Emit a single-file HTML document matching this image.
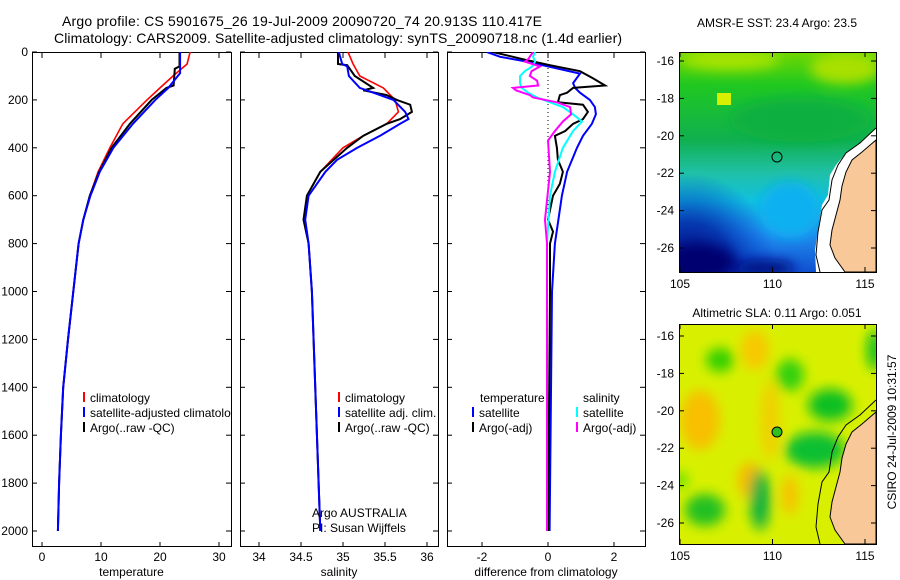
<!DOCTYPE html>
<html><head><meta charset="utf-8"><style>
body{margin:0;background:#fff;}
svg{display:block;font-family:"Liberation Sans",sans-serif;}
text{font-size:12px;fill:#000;}
</style></head><body>
<svg id="fig" width="900" height="580" viewBox="0 0 900 580">
<defs>
<clipPath id="c1"><rect x="32" y="52" width="199" height="495"/></clipPath>
<clipPath id="c2"><rect x="240" y="52" width="198" height="495"/></clipPath>
<clipPath id="c3"><rect x="447" y="52" width="198" height="495"/></clipPath>
<clipPath id="m1"><rect x="679" y="52" width="197" height="220"/></clipPath>
<clipPath id="m2"><rect x="679" y="324" width="197" height="220"/></clipPath>
<linearGradient id="sstg" x1="0" y1="0" x2="0" y2="1">
<stop offset="0" stop-color="#70d800"/><stop offset="0.15" stop-color="#20c820"/><stop offset="0.4" stop-color="#10b050"/><stop offset="0.55" stop-color="#20c0a8"/><stop offset="0.68" stop-color="#10c0e0"/><stop offset="0.82" stop-color="#2090f0"/><stop offset="1" stop-color="#1050d0"/>
</linearGradient>
<radialGradient id="navy" cx="0.05" cy="1" r="0.45"><stop offset="0" stop-color="#000070"/><stop offset="0.5" stop-color="#0020a0" stop-opacity="0.8"/><stop offset="1" stop-color="#0040d0" stop-opacity="0"/></radialGradient>
<filter id="bl"><feGaussianBlur stdDeviation="6"/></filter>
</defs>

<g>
<text x="62" y="26" textLength="480" style="font-size:14px">Argo profile: CS 5901675_26 19-Jul-2009 20090720_74 20.913S 110.417E</text>
<text x="54" y="43" textLength="568" style="font-size:14px">Climatology: CARS2009. Satellite-adjusted climatology: synTS_20090718.nc (1.4d earlier)</text>
</g>

<g id="axes"></g>
<g id="series"></g>

<g>
<text x="777" y="27" text-anchor="middle" style="font-size:12px">AMSR-E SST: 23.4  Argo: 23.5</text>
<g clip-path="url(#m1)">
<rect x="679" y="52" width="197" height="220" fill="url(#sstg)"/>
<rect x="679" y="52" width="197" height="220" fill="url(#navy)"/>
<g filter="url(#bl)">
<ellipse cx="730" cy="60" rx="50" ry="10" fill="#a8e400"/>
<ellipse cx="845" cy="68" rx="35" ry="16" fill="#a8e000"/>
<ellipse cx="800" cy="120" rx="70" ry="22" fill="#10b040"/>
<ellipse cx="700" cy="262" rx="35" ry="18" fill="#000070"/>
<ellipse cx="765" cy="268" rx="30" ry="8" fill="#001080"/>
<ellipse cx="790" cy="210" rx="30" ry="28" fill="#10b0f0"/>
</g>
<rect x="717" y="93" width="14" height="12" fill="#d8f000"/>
<polygon points="876,128 860,143 846,153 836,165 830,175 828,195 822,205 818,230 815,250 816,272 876,272" fill="#fff"/>
<polygon points="876,140 862,152 852,160 846,172 842,186 840,200 836,215 832,230 830,245 835,258 845,272 876,272" fill="#f8c898" stroke="#000" stroke-width="1"/>
<path d="M876,128 L860,143 L846,153 L838,165 L832,180 L829,200 L822,210 L818,232 L816,255 L820,272" fill="none" stroke="#000" stroke-width="1"/>
</g>
<rect x="679.5" y="52.5" width="197" height="220" fill="none" stroke="#000"/>
<circle cx="777" cy="157" r="5" fill="none" stroke="#000"/>
</g>

<g>
<text x="777" y="317" text-anchor="middle" style="font-size:12px">Altimetric SLA: 0.11  Argo: 0.051</text>
<g clip-path="url(#m2)">
<rect x="679" y="324" width="197" height="220" fill="#d8f000"/>
<g filter="url(#bl)">
<ellipse cx="755" cy="350" rx="14" ry="20" fill="#f8c800"/>
<ellipse cx="700" cy="420" rx="20" ry="30" fill="#f8c000"/>
<ellipse cx="750" cy="480" rx="12" ry="18" fill="#f8b800"/>
<ellipse cx="790" cy="495" rx="8" ry="20" fill="#f8c000"/>
<ellipse cx="770" cy="420" rx="10" ry="40" fill="#f0d000"/>
<ellipse cx="720" cy="360" rx="14" ry="12" fill="#30d000"/>
<ellipse cx="790" cy="375" rx="14" ry="16" fill="#30d010"/>
<ellipse cx="830" cy="405" rx="22" ry="16" fill="#10c020"/>
<ellipse cx="815" cy="450" rx="30" ry="18" fill="#10c030"/>
<ellipse cx="760" cy="500" rx="10" ry="30" fill="#10b040"/>
<ellipse cx="705" cy="510" rx="20" ry="16" fill="#20c020"/>
<ellipse cx="875" cy="350" rx="8" ry="20" fill="#10c020"/>
<ellipse cx="680" cy="480" rx="8" ry="8" fill="#60e000"/>
</g>
<polygon points="876,412 862,424 852,432 846,444 842,458 840,472 836,487 832,502 830,517 835,530 845,544 876,544" fill="#f8c898" stroke="#000" stroke-width="1"/>
<path d="M876,400 L860,415 L846,425 L838,437 L832,452 L829,472 L822,482 L818,504 L816,527 L820,544" fill="none" stroke="#000" stroke-width="1"/>
</g>
<rect x="679.5" y="324.5" width="197" height="220" fill="none" stroke="#000"/>
<circle cx="777" cy="432" r="5" fill="#30c020" stroke="#000"/>
<text transform="translate(896,432) rotate(-90)" text-anchor="middle" style="font-size:12px">CSIRO 24-Jul-2009 10:31:57</text>
</g>
</svg>
<script>
const depthAxisTicks = [0,200,400,600,800,1000,1200,1400,1600,1800,2000];
const tempTicks = [0,10,20,30];
const salTicks = [34,34.5,35,35.5,36];
const diffTicks = [-2,0,2];
const latTicks = [-16,-18,-20,-22,-24,-26];
const lonTicks = [105,110,115];

const tClimDepth = [0,50,100,150,200,300,400,500,600,700,800,1000,1200,1400,1600,1800,2000];
const tClim      = [25.1,24.6,22.2,20.0,17.8,13.7,11.5,9.5,8.1,7.0,6.2,5.3,4.4,3.6,3.2,2.9,2.7];
const tSatDepth = [0,88,150,200,300,400,500,600,700,800,1000,1200,1400,1600,1800,2000];
const tSat      = [23.4,23.4,21.4,19.2,15.4,12.1,9.8,8.2,7.0,6.2,5.3,4.4,3.6,3.2,2.9,2.7];
const tArgoDepth = [0,60,70,140,150,200,300,400,500,600,700,800,1000,1200,1400,1600,1800,2000];
const tArgo      = [23.3,23.3,22.5,22.3,21.1,18.6,14.9,11.8,9.7,8.1,7.0,6.2,5.3,4.4,3.6,3.2,2.9,2.7];

const sClimDepth = [0,50,100,150,200,250,300,350,400,500,600,700,800,1000,1500,2000];
const sClim      = [35.06,35.12,35.2,35.48,35.62,35.66,35.52,35.24,35.0,34.73,34.57,34.55,34.59,34.63,34.68,34.73];
const sSatDepth = [0,50,60,100,150,180,200,250,280,300,350,400,450,500,600,700,800,1000,1500,2000];
const sSat      = [34.95,34.99,35.05,35.07,35.2,35.44,35.6,35.74,35.78,35.68,35.44,35.17,34.93,34.79,34.59,34.55,34.59,34.63,34.68,34.73];
const sArgoDepth = [0,50,55,100,150,160,180,200,220,250,280,300,350,400,500,600,700,800,1000,1500,2000];
const sArgo      = [34.94,34.94,35.05,35.14,35.36,35.24,35.52,35.64,35.8,35.82,35.68,35.52,35.24,35.05,34.73,34.57,34.53,34.59,34.63,34.68,34.73];

const dTSatDepth = [0,20,40,60,90,130,150,170,200,230,260,300,350,400,500,600,800,1000,2000];
const dTSat      = [-1.85,-1.45,-0.64,0,0.97,0.76,0.82,0.97,1.27,1.42,1.45,1.33,1.06,0.88,0.58,0.42,0.21,0.12,0.05];
const dTArgoDepth = [0,30,55,80,110,140,150,170,180,210,220,250,280,300,330,350,400,450,500,550,600,700,750,800,1000,2000];
const dTArgo      = [-1.67,-0.76,0.06,0.97,1.36,1.73,0.76,0.58,0.36,0.3,1.06,1.21,1.06,0.76,0.52,0.21,0.27,0.3,0.45,0.36,0.15,0,0.15,0.06,0.06,0.0];
const dSSatDepth = [0,20,40,60,80,100,130,150,170,190,210,230,260,290,330,400,500,600,800,2000];
const dSSat      = [-0.39,-0.45,-0.39,-0.48,-0.7,-0.85,-0.85,-0.8,-0.6,-0.33,0.06,0.45,0.76,1.03,0.76,0.45,0.21,0.06,-0.03,-0.03];
const dSArgoDepth = [0,30,40,60,80,100,120,140,150,160,180,190,210,230,260,290,330,370,500,700,800,2000];
const dSArgo      = [-0.45,-0.6,-0.7,-0.24,-0.5,-0.55,-0.33,-0.3,-1.06,-0.97,-0.55,-0.45,0.27,0.67,0.7,0.45,0.21,0,0.06,-0.09,-0.03,-0.03];

const NS = 'http://www.w3.org/2000/svg';
const yD = d => 52 + d * 0.2395;
const xT = v => 42 + 5.9 * v;
const xS = v => 301 + 84 * (v - 34.5);
const xDf = v => 548 + 33 * v;
const yLat1 = v => 61 + (-16 - v) * 18.7;
const yLat2 = v => 336 + (-16 - v) * 18.7;
const xLon = v => 680 + (v - 105) * 18.5;

function mk(tag, attrs, parent) {
  const e = document.createElementNS(NS, tag);
  for (const k in attrs) e.setAttribute(k, attrs[k]);
  parent.appendChild(e);
  return e;
}
const axes = document.getElementById('axes');
const series = document.getElementById('series');
const svg = document.getElementById('fig');

const panels = [
  {x0:32, w:199, ticks:tempTicks, fx:xT, label:'temperature', name:'temperature'},
  {x0:240, w:198, ticks:salTicks, fx:xS, label:'salinity', name:'salinity'},
  {x0:447, w:198, ticks:diffTicks, fx:xDf, label:'difference from climatology', name:'difference'}
];
panels.forEach((p, i) => {
  const r = mk('rect', {x:p.x0+0.5, y:52.5, width:p.w, height:494, fill:'none', stroke:'#000'}, axes);
  
  
  p.ticks.forEach(t => {
    const x = p.fx(t);
    mk('line', {x1:x, x2:x, y1:547, y2:542, stroke:'#000'}, axes);
    mk('line', {x1:x, x2:x, y1:53, y2:58, stroke:'#000'}, axes);
    const tx = mk('text', {x:x, y:561, 'text-anchor':'middle'}, axes);
    tx.textContent = String(t);
    
    
  });
  const lb = mk('text', {x:p.x0 + p.w/2, y:576, 'text-anchor':'middle'}, axes);
  lb.textContent = p.label;
  
  
  depthAxisTicks.forEach(d => {
    const y = yD(d);
    mk('line', {x1:p.x0, x2:p.x0+5, y1:y, y2:y, stroke:'#000'}, axes);
    mk('line', {x1:p.x0+p.w, x2:p.x0+p.w-5, y1:y, y2:y, stroke:'#000'}, axes);
    if (i === 0) {
      const tx = mk('text', {x:p.x0-4, y:y+4, 'text-anchor':'end'}, axes);
      tx.textContent = String(d);
      
      
    }
  });
});

const zl = mk('line', {x1:xDf(0), x2:xDf(0), y1:yD(0), y2:yD(700), stroke:'#000', 'stroke-dasharray':'1,3'}, series);



function line(depths, vals, fx, color, clip, name, w) {
  const pts = depths.map((d, k) => fx(vals[k]).toFixed(1) + ',' + yD(d).toFixed(1)).join(' ');
  const pl = mk('polyline', {points:pts, fill:'none', stroke:color, 'stroke-width':w || 2, 'clip-path':'url(#' + clip + ')'}, series);
  
  
}
line(tClimDepth, tClim, xT, '#f00', 'c1', 'temperature-climatology-line', 1.6);
line(tArgoDepth, tArgo, xT, '#000', 'c1', 'temperature-argo-line');
line(tSatDepth, tSat, xT, '#00f', 'c1', 'temperature-satellite-line');
line(sClimDepth, sClim, xS, '#f00', 'c2', 'salinity-climatology-line', 1.6);
line(sArgoDepth, sArgo, xS, '#000', 'c2', 'salinity-argo-line');
line(sSatDepth, sSat, xS, '#00f', 'c2', 'salinity-satellite-line');
line(dTSatDepth, dTSat, xDf, '#00f', 'c3', 'diff-temperature-satellite-line');
line(dTArgoDepth, dTArgo, xDf, '#000', 'c3', 'diff-temperature-argo-line');
line(dSSatDepth, dSSat, xDf, '#0ff', 'c3', 'diff-salinity-satellite-line');
line(dSArgoDepth, dSArgo, xDf, '#f0f', 'c3', 'diff-salinity-argo-line');

function leg(x, y, color, label, name) {
  const s = mk('line', {x1:x, x2:x, y1:y-10, y2:y, stroke:color, 'stroke-width':2}, series);
  
  
  const t = mk('text', {x:x+6, y:y, 'clip-path':'url(#c1)'}, series);
  t.textContent = label;
  
  
  return t;
}
leg(84, 402, '#f00', 'climatology', 'legend-climatology');
leg(84, 417, '#00f', 'satellite-adjusted climatology', 'legend-satellite-adjusted');
leg(84, 432, '#000', 'Argo(..raw -QC)', 'legend-argo');
[['#f00','climatology'],['#00f','satellite adj. clim.'],['#000','Argo(..raw -QC)']].forEach((a, k) => {
  const t = leg(339, 402 + 15*k, a[0], a[1], 'salinity-legend-entry');
  t.setAttribute('clip-path', 'url(#c2)');
});
const th = mk('text', {x:480, y:402}, series); th.textContent = 'temperature';


const sh = mk('text', {x:583, y:402}, series); sh.textContent = 'salinity';


[[473,'#00f','satellite',417],[473,'#000','Argo(-adj)',432],[577,'#0ff','satellite',417],[577,'#f0f','Argo(-adj)',432]].forEach(a => {
  const t = leg(a[0], a[3], a[1], a[2], 'diff-legend-entry');
  t.setAttribute('clip-path', 'url(#c3)');
});
const a1 = mk('text', {x:312, y:517}, series); a1.textContent = 'Argo AUSTRALIA';


const a2 = mk('text', {x:312, y:532}, series); a2.textContent = 'PI: Susan Wijffels';



[[yLat1, 272, 52], [yLat2, 544, 324]].forEach((m, mi) => {
  latTicks.forEach(l => {
    const y = m[0](l);
    mk('line', {x1:679, x2:684, y1:y, y2:y, stroke:'#000'}, svg);
    mk('line', {x1:876, x2:871, y1:y, y2:y, stroke:'#000'}, svg);
    const t = mk('text', {x:674, y:y+4, 'text-anchor':'end'}, svg);
    t.textContent = String(l);
    
    
  });
  lonTicks.forEach(l => {
    const x = xLon(l);
    mk('line', {x1:x, x2:x, y1:m[1], y2:m[1]-5, stroke:'#000'}, svg);
    mk('line', {x1:x, x2:x, y1:m[2], y2:m[2]+5, stroke:'#000'}, svg);
    const t = mk('text', {x:x, y:m[1]+16, 'text-anchor':'middle'}, svg);
    t.textContent = String(l);
    
    
  });
});
</script>
</body></html>
